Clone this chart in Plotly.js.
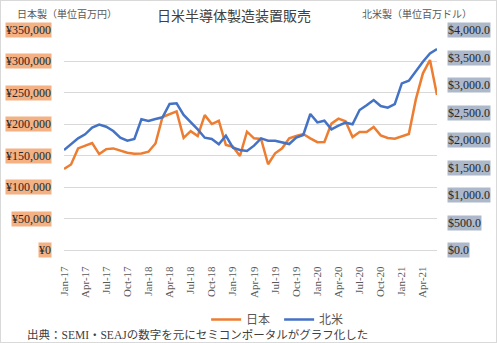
<!DOCTYPE html>
<html><head><meta charset="utf-8">
<script src="https://cdn.plot.ly/plotly-3.0.1.min.js"></script>
<style>
html,body{margin:0;padding:0;background:#fff;}
#wrap{width:497px;height:343px;box-sizing:border-box;border:1px solid #d9d9d9;overflow:hidden;}
#chart{width:495px;height:341px;}
</style></head>
<body><div id="wrap"><div id="chart"></div></div>
<script>
const months = ['Jan-17','Feb-17','Mar-17','Apr-17','May-17','Jun-17','Jul-17','Aug-17','Sep-17','Oct-17','Nov-17','Dec-17',
'Jan-18','Feb-18','Mar-18','Apr-18','May-18','Jun-18','Jul-18','Aug-18','Sep-18','Oct-18','Nov-18','Dec-18',
'Jan-19','Feb-19','Mar-19','Apr-19','May-19','Jun-19','Jul-19','Aug-19','Sep-19','Oct-19','Nov-19','Dec-19',
'Jan-20','Feb-20','Mar-20','Apr-20','May-20','Jun-20','Jul-20','Aug-20','Sep-20','Oct-20','Nov-20','Dec-20',
'Jan-21','Feb-21','Mar-21','Apr-21','May-21','Jun-21'];
const japan = [129000,136000,161600,165800,170000,152600,160500,161600,158400,154700,153000,153600,
156300,169500,211600,215800,220500,178400,189000,181300,214600,200400,205600,167100,
164400,149600,188200,177600,176600,136400,153900,161800,177600,181300,184500,177600,
171500,171800,201000,209000,204800,179800,187800,187800,195700,182400,178200,177100,
180900,184600,240000,281100,302300,246600];
const northAmerica = [1818,1927,2030,2103,2224,2279,2242,2164,2042,1988,2018,2376,
2345,2382,2412,2655,2667,2455,2333,2194,2042,2018,1921,2079,
1861,1818,1800,1897,2030,1988,1988,1958,1927,2042,2091,2473,
2321,2351,2194,2261,2315,2285,2545,2630,2727,2618,2588,2654,
3030,3079,3260,3424,3575,3654];
const xTicks = months.filter((m,i)=>i%3===0);
const jpTickVals = [0,50000,100000,150000,200000,250000,300000,350000];
const jpTickText = ['¥0','¥50,000','¥100,000','¥150,000','¥200,000','¥250,000','¥300,000','¥350,000'];
const usTickVals = [0,500,1000,1500,2000,2500,3000,3500,4000];
const usTickText = ['$0.0','$500.0','$1,000.0','$1,500.0','$2,000.0','$2,500.0','$3,000.0','$3,500.0','$4,000.0'];

const FONT = 'Liberation Serif, Noto Sans CJK JP, serif';
const traces = [
  {x: months, y: japan, name: '日本', type: 'scatter', mode: 'lines', yaxis: 'y',
   line: {color: '#ED7D31', width: 2.5}},
  {x: months, y: northAmerica, name: '北米', type: 'scatter', mode: 'lines', yaxis: 'y2',
   line: {color: '#4472C4', width: 2.5}}
];
const ann = [];
jpTickVals.forEach((v,i)=>ann.push({xref:'paper', yref:'y', x:-0.032, y:v, xanchor:'right', yanchor:'middle',
  text: jpTickText[i], showarrow:false, bgcolor:'#F4B183', borderpad:0, font:{family:FONT, size:12, color:'#262626'}}));
usTickVals.forEach((v,i)=>ann.push({xref:'paper', yref:'y2', x:1.027, y:v, xanchor:'left', yanchor:'middle',
  text: usTickText[i], showarrow:false, bgcolor:'#ADB9CA', borderpad:0, font:{family:FONT, size:12, color:'#262626'}}));
ann.push({xref:'paper', yref:'paper', x:-0.131, y:1.073, xanchor:'left', yanchor:'middle', showarrow:false,
  text:'日本製（単位百万円）', font:{family:FONT, size:10, color:'#595959'}});
ann.push({xref:'paper', yref:'paper', x:0.794, y:1.073, xanchor:'left', yanchor:'middle', showarrow:false,
  text:'北米製（単位百万ドル）', font:{family:FONT, size:10, color:'#595959'}});
ann.push({xref:'paper', yref:'paper', x:-0.105, y:-0.382, xanchor:'left', yanchor:'middle', showarrow:false,
  text:'出典：SEMI・SEAJの数字を元にセミコンポータルがグラフ化した', font:{family:FONT, size:11.5, color:'#404040'}});

const layout = {
  width: 495, height: 341,
  margin: {l: 63, r: 59, t: 29, b: 92, autoexpand: false},
  paper_bgcolor: '#ffffff', plot_bgcolor: '#ffffff',
  title: {text: '日米半導体製造装置販売', xref: 'paper', x: 0.456, xanchor: 'center',
          yref: 'container', y: 0.956, yanchor: 'middle', automargin: false,
          font: {family: 'Noto Sans CJK JP, sans-serif', size: 14, color: '#404040'}},
  xaxis: {type: 'category', range: [0, 53], tickmode: 'array', tickvals: xTicks, ticktext: xTicks,
          tickangle: -90, showgrid: false, zeroline: false, showline: true, linecolor: '#d9d9d9', linewidth: 1,
          ticks: '', ticklabelstandoff: 11, automargin: false,
          tickfont: {family: FONT, size: 11, color: '#595959'}},
  yaxis: {range: [0, 350000], tickvals: jpTickVals, showticklabels: false, showgrid: true,
          gridcolor: '#d9d9d9', gridwidth: 1, zeroline: false, showline: false, ticks: ''},
  yaxis2: {range: [0, 4000], overlaying: 'y', side: 'right', showticklabels: false, showgrid: false,
           zeroline: false, showline: false, ticks: ''},
  showlegend: true,
  legend: {orientation: 'h', x: 0.381, y: -0.25, xanchor: 'left', yanchor: 'top',
           entrywidth: 28, entrywidthmode: 'pixels',
           font: {family: FONT, size: 12, color: '#595959'}, bgcolor: 'rgba(0,0,0,0)'},
  annotations: ann
};
Plotly.newPlot('chart', traces, layout, {displayModeBar: false, staticPlot: true});
</script></body></html>
